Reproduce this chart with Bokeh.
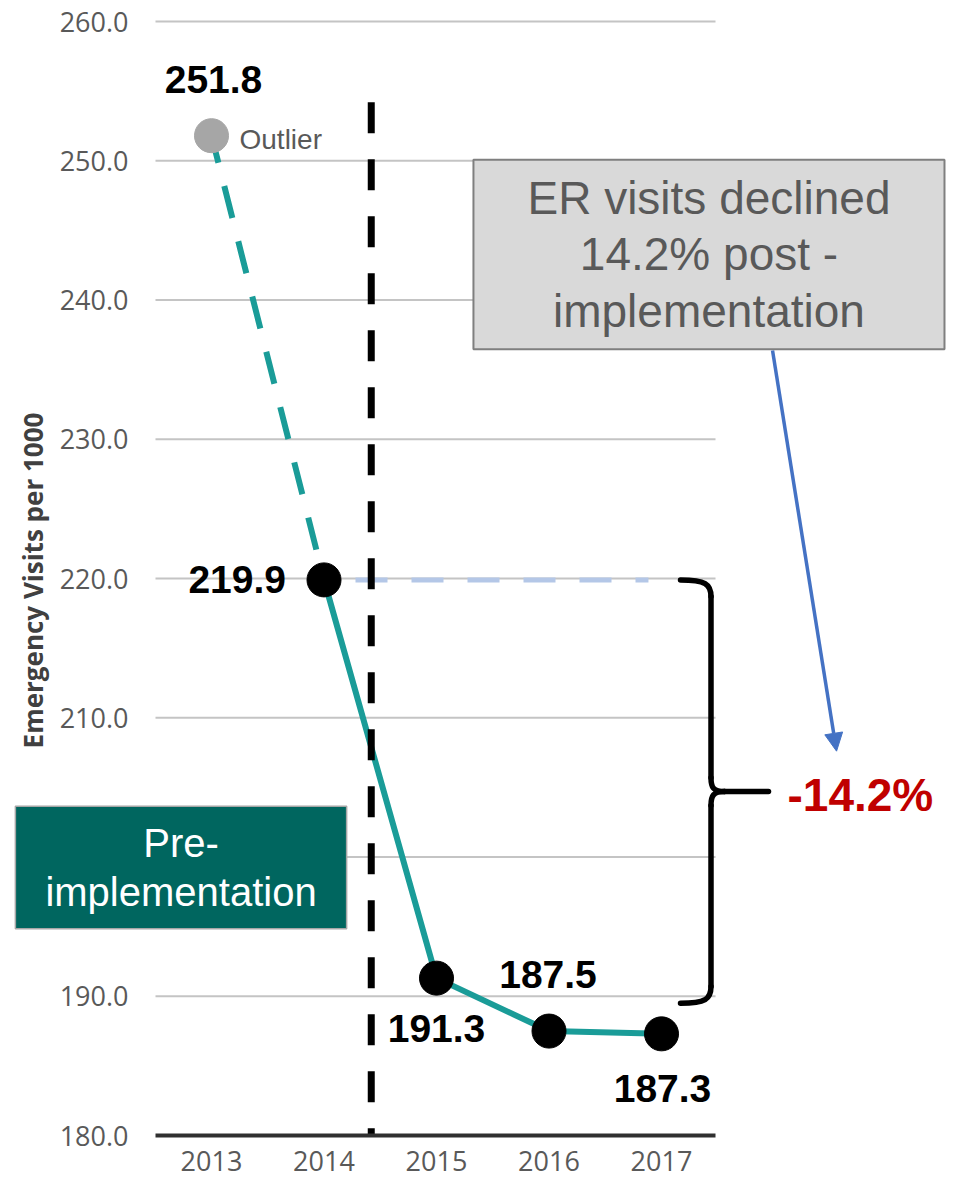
import math
from bokeh.plotting import figure
from bokeh.models import Range1d, FixedTicker, NumeralTickFormatter, Label, Arrow, NormalHead
from bokeh.core.properties import value
from bokeh.embed import file_html
from bokeh.resources import INLINE

# ---------------- data ----------------
years = [2013, 2014, 2015, 2016, 2017]
visits = [251.8, 219.9, 191.3, 187.5, 187.3]
value_labels = ["251.8", "219.9", "191.3", "187.5", "187.3"]
y_ticks = [180, 190, 200, 210, 220, 230, 240, 250, 260]
x_ticks = [2013, 2014, 2015, 2016, 2017]
implementation_at = 2014.42          # divider between pre / post
divider_top = 254.2
bracket_bottom = 189.5
change_text = "-14.2%"
box_text = "ER visits declined\n14.2% post -\nimplementation"
pre_text = "Pre-\nimplementation"
outlier_text = "Outlier"
y_title = "Emergency Visits per 1000"

# ---------------- layout ----------------
W, H = 950, 1190
PX_YEAR = 112.5
PX_UNIT = 13.925
x0 = 2013 - 211 / PX_YEAR           # frame spans whole figure
x1 = x0 + W / PX_YEAR
axis_start = 2013 - 56 / PX_YEAR
axis_end = 2017.48
y_base = 180
y1 = 260 + 21 / PX_UNIT
y0 = y1 - H / PX_UNIT

TEAL = "#1a9c98"
LAB_FONT = value("Liberation Sans")

p = figure(width=W, height=H, output_backend="svg", toolbar_location=None,
           x_range=Range1d(x0, x1), y_range=Range1d(y0, y1),
           min_border_left=0, min_border_right=0, min_border_top=0,
           min_border_bottom=0)
p.outline_line_color = None
p.xgrid.visible = False
p.ygrid.visible = False

# axes
xa = p.xaxis[0]
xa.fixed_location = y_base
xa.ticker = FixedTicker(ticks=x_ticks)
xa.bounds = (axis_start, axis_end)
xa.axis_line_color = "#303030"
xa.axis_line_width = 4
xa.major_tick_line_color = None
xa.minor_tick_line_color = None
xa.major_tick_out = 0
xa.major_label_standoff = 15
xa.major_label_text_font = "Open Sans"
xa.major_label_text_font_size = "27px"
xa.major_label_text_color = "#595959"

ya = p.yaxis[0]
ya.fixed_location = axis_start
ya.ticker = FixedTicker(ticks=y_ticks)
ya.formatter = NumeralTickFormatter(format="0.0")
ya.axis_line_color = None
ya.major_tick_line_color = None
ya.minor_tick_line_color = None
ya.major_tick_out = 0
ya.major_label_standoff = 27
ya.major_label_text_font = "Open Sans"
ya.major_label_text_font_size = "27px"
ya.major_label_text_color = "#595959"

# rotated y-axis title
p.text(x=[2013 - 179 / PX_YEAR], y=[260 - (580 - 21) / PX_UNIT], text=[y_title],
       angle=math.pi / 2, text_align="center", text_baseline="middle",
       text_font=value("Open Sans"), text_font_style="bold", text_font_size="26px",
       text_color="#404040")

# grid lines (only over the chart area)
grid_y = y_ticks[1:]
p.segment(x0=[axis_start] * len(grid_y), x1=[axis_end] * len(grid_y), y0=grid_y, y1=grid_y,
          line_color="#c4c4c4", line_width=2)

# reference dashed line at 2014 level
p.line(x=[2014.28, 2016.884], y=[visits[1], visits[1]], line_color="#b4c7e7",
       line_width=5, line_dash="32 24")

# outlier dashed segment and solid trend
p.line(x=years[:2], y=visits[:2], line_color=TEAL, line_width=6,
       line_dash="33 24", line_dash_offset=5)
p.line(x=years[1:], y=visits[1:], line_color=TEAL, line_width=6)

# implementation divider
p.line(x=[implementation_at, implementation_at], y=[divider_top, y_base],
       line_color="black", line_width=7, line_dash="31 26")

# points
p.scatter(x=years[:1], y=visits[:1], size=34, fill_color="#a6a6a6", line_color="#a6a6a6")
p.scatter(x=years[1:], y=visits[1:], size=34, fill_color="black", line_color="black")

# value labels
offsets = [(2, -56, "center"), (-38, 0, "right"), (0, 50, "center"), (-1, -57, "center"), (1, 55, "center")]
for (yr, v, t, (dx, dy, al)) in zip(years, visits, value_labels, offsets):
    p.text(x=[yr], y=[v], text=[t], x_offset=dx, y_offset=dy, text_align=al,
           text_baseline="middle", text_font=LAB_FONT, text_font_style="bold",
           text_font_size="39px", text_color="black")

p.text(x=years[:1], y=visits[:1], text=[outlier_text], x_offset=28, y_offset=4,
       text_align="left", text_baseline="middle", text_font=LAB_FONT,
       text_font_size="28px", text_color="#595959")

# bracket
xs = 2017.44
xh = 2017.169
xt = 2017.951
yt = visits[1]
yb = bracket_bottom
ym = (yt + yb) / 2
bk = dict(line_color="black", line_width=5.5, line_cap="round")
p.bezier(x0=[xh, xs, xs + 0.12, xs], y0=[yt, ym + 1.0, ym, yb + 1.2],
         x1=[xs, xs + 0.12, xs, xh], y1=[yt - 1.2, ym, ym - 1.0, yb],
         cx0=[xs - 0.05, xs, xs + 0.02, xs], cy0=[yt, ym + 0.3, ym, yb + 0.3],
         cx1=[xs, xs + 0.02, xs, xs - 0.05], cy1=[yt - 0.3, ym, ym - 0.3, yb], **bk)
p.segment(x0=[xs, xs, xs + 0.12], y0=[yt - 1.2, ym - 1.0, ym],
          x1=[xs, xs, xt], y1=[ym + 1.0, yb + 1.2, ym], **bk)

p.text(x=[2018.12], y=[ym], text=[change_text], y_offset=3, text_align="left",
       text_baseline="middle", text_font=LAB_FONT, text_font_style="bold",
       text_font_size="46px", text_color="#c00000")

# annotation boxes
p.add_layout(Label(x=2012.729, y=199.25, text=pre_text, text_align="center",
                   text_baseline="middle", text_color="white", text_font="Liberation Sans",
                   text_font_size="40px", text_line_height=1.1,
                   background_fill_color="#00665f", border_line_color="#a6a6a6",
                   border_line_width=1.5, padding=dict(x=30, y=15)))
p.add_layout(Label(x=2017.422, y=243.27, text=box_text, text_align="center",
                   text_baseline="middle", text_color="#595959", text_font="Liberation Sans",
                   text_font_size="46px", text_line_height=1.09,
                   background_fill_color="#d9d9d9", border_line_color="#7f7f7f",
                   border_line_width=2, padding=dict(x=54, y=12)))

p.add_layout(Arrow(x_start=2017.987, y_start=236.37, x_end=2018.556, y_end=207.6,
                   line_color="#4472c4", line_width=3.5,
                   end=NormalHead(size=18, fill_color="#4472c4", line_color="#4472c4")))

open("out.html", "w").write(file_html(p, INLINE))
